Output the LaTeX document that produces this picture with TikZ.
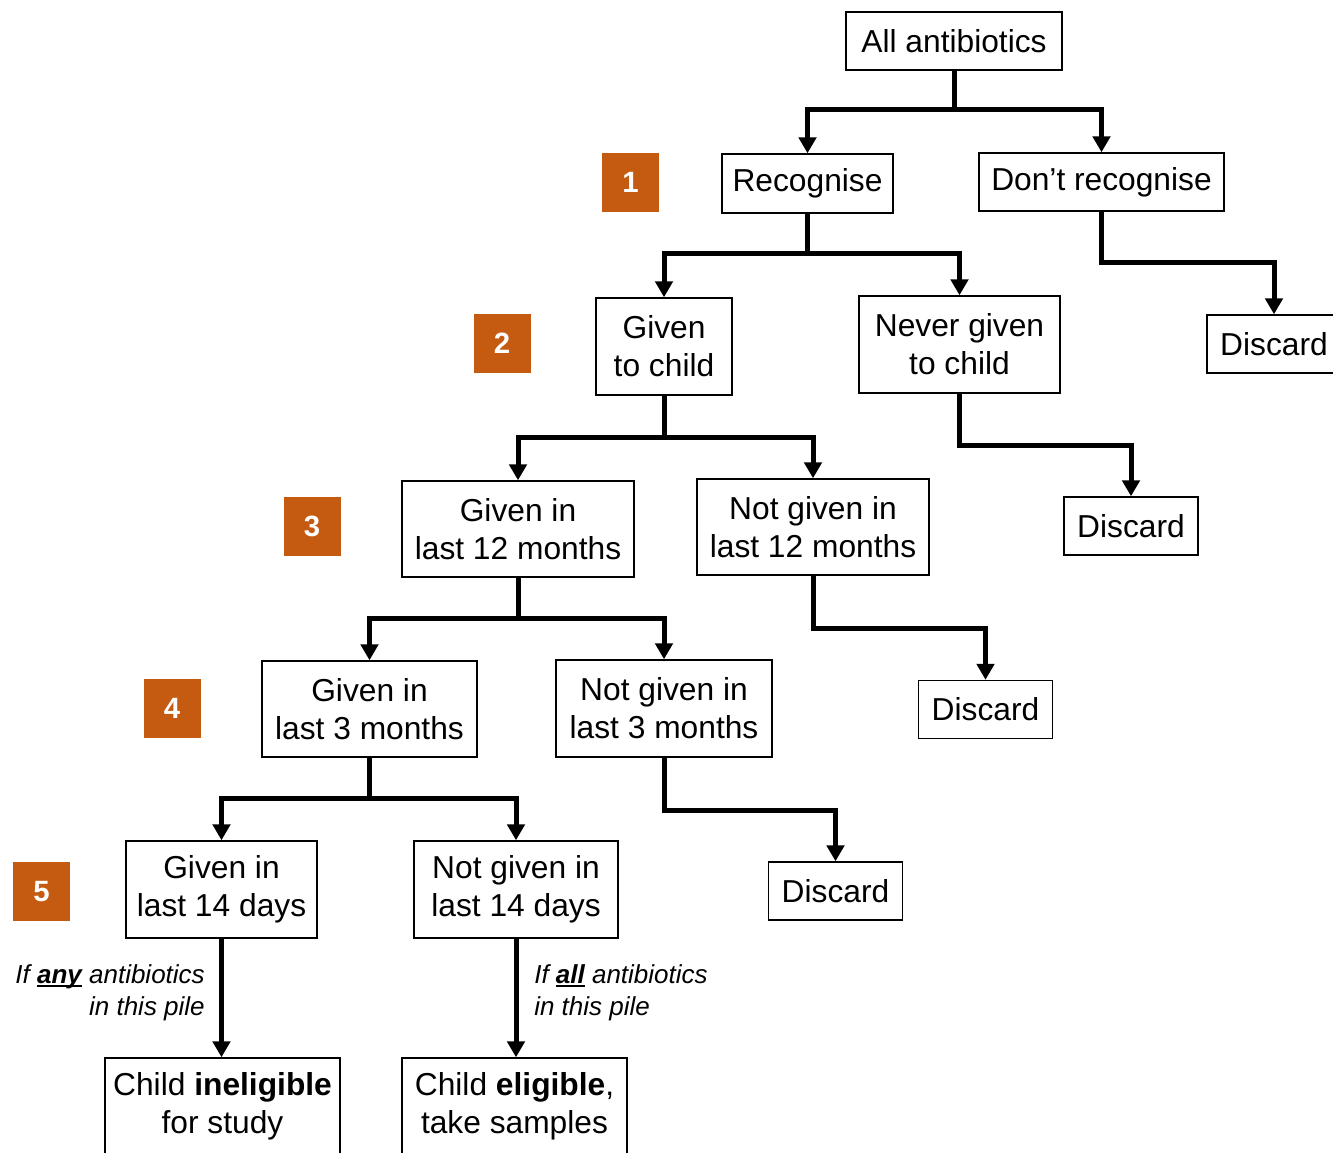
\documentclass[tikz,border=0pt]{standalone}
\usepackage{fontspec}
\setmainfont{Liberation Sans}
\usetikzlibrary{arrows.meta}
\definecolor{numorange}{HTML}{C55A11}
\newcommand\ulbold[1]{\setbox0\hbox{\textbf{#1}}\rlap{\rule[-2.2pt]{\wd0}{1.3pt}}\box0\relax}
\begin{document}
\begin{tikzpicture}[x=0.75pt,y=-0.75pt,
 box/.style={draw=black, line width=1.1pt, fill=white, align=center, inner sep=0pt, font=\fontsize{23.8}{28.5}\selectfont},
 num/.style={fill=numorange, text=white, font=\fontsize{22}{22}\selectfont\bfseries, minimum width=42.75pt, minimum height=44.25pt, inner sep=0pt},
 arr/.style={line width=3.75pt, -{Triangle[width=13pt,length=12pt]}},
 trunk/.style={line width=3.75pt},
 note/.style={font=\fontsize{19.5}{24}\selectfont\itshape, inner sep=0pt}]
\useasboundingbox (0,0) rectangle (1333,1152);
\fill[white] (0,0) rectangle (1333,1152);

% boxes
\node[box, minimum width=162pt, minimum height=43.5pt] (all) at (954,41) {All antibiotics};
\node[box, minimum width=128.25pt, minimum height=44.25pt] (rec) at (807.5,183.5) {Recognise};
\node[box, minimum width=183.75pt, minimum height=43.5pt] (dont) at (1101.5,182) {Don’t recognise};
\node[box, minimum width=100.5pt, minimum height=43.5pt] (d1) at (1274,344) {Discard};
\node[box, minimum width=102pt, minimum height=72.75pt] (gchild) at (664,346.5) {Given\\to child};
\node[box, minimum width=150.75pt, minimum height=72.75pt] (nchild) at (959.5,344.5) {Never given\\to child};
\node[box, minimum width=100.5pt, minimum height=43.5pt] (d2) at (1131,526) {Discard};
\node[box, minimum width=174pt, minimum height=72pt] (g12) at (518,529) {Given in\\last 12 months};
\node[box, minimum width=174pt, minimum height=72pt] (n12) at (813,527) {Not given in\\last 12 months};
\node[box, minimum width=100.5pt, minimum height=43.5pt] (d3) at (985.5,709.5) {Discard};
\node[box, minimum width=161.25pt, minimum height=72pt] (g3) at (369.5,709) {Given in\\last 3 months};
\node[box, minimum width=162pt, minimum height=72.75pt] (n3) at (664,708.5) {Not given in\\last 3 months};
\node[box, minimum width=100.5pt, minimum height=43.5pt] (d4) at (835.5,891) {Discard};
\node[box, minimum width=143.25pt, minimum height=72.75pt] (g14) at (221.5,889.5) {Given in\\last 14 days};
\node[box, minimum width=153pt, minimum height=72.75pt] (n14) at (516,889.5) {Not given in\\last 14 days};
\node[box, minimum width=176.25pt, minimum height=72.75pt] (inel) at (222.5,1106.5) {Child \textbf{ineligible}\\for study};
\node[box, minimum width=168.75pt, minimum height=72.75pt] (elig) at (514.5,1106.5) {Child \textbf{eligible},\\take samples};

% step numbers
\node[num] (s1) at (630.5,182.5) {1};
\node[num] (s2) at (502,343.5) {2};
\node[num] (s3) at (312,526.5) {3};
\node[num] (s4) at (172,708.5) {4};
\node[num] (s5) at (41.5,891.5) {5};

% connectors
\coordinate (j1) at (all.south |- 0,110);
\draw[trunk] (all.south) -- (j1);
\draw[arr] (j1) -| (rec.north);
\draw[arr] (j1) -| (dont.north);

\coordinate (j2) at (rec.south |- 0,253);
\draw[trunk] (rec.south) -- (j2);
\draw[arr] (j2) -| (gchild.north);
\draw[arr] (j2) -| (nchild.north);

\draw[arr] (dont.south) -- (dont.south |- 0,262) -| (d1.north);

\coordinate (j3) at (gchild.south |- 0,437);
\draw[trunk] (gchild.south) -- (j3);
\draw[arr] (j3) -| (g12.north);
\draw[arr] (j3) -| (n12.north);

\draw[arr] (nchild.south) -- (nchild.south |- 0,445) -| (d2.north);

\coordinate (j4) at (g12.south |- 0,618);
\draw[trunk] (g12.south) -- (j4);
\draw[arr] (j4) -| (g3.north);
\draw[arr] (j4) -| (n3.north);

\draw[arr] (n12.south) -- (n12.south |- 0,628) -| (d3.north);

\coordinate (j5) at (g3.south |- 0,798);
\draw[trunk] (g3.south) -- (j5);
\draw[arr] (j5) -| (g14.north);
\draw[arr] (j5) -| (n14.north);

\draw[arr] (n3.south) -- (n3.south |- 0,810) -| (d4.north);

\draw[arr] (g14.south) -- (g14.south |- inel.north);
\draw[arr] (n14.south) -- (n14.south |- elig.north);

% notes
\node[note, align=right, anchor=east] (note1) at (205,993) {If \ulbold{any} antibiotics\\in this pile};
\node[note, align=left, anchor=west] (note2) at (534,993) {If \ulbold{all} antibiotics\\in this pile};
\end{tikzpicture}
\end{document}
